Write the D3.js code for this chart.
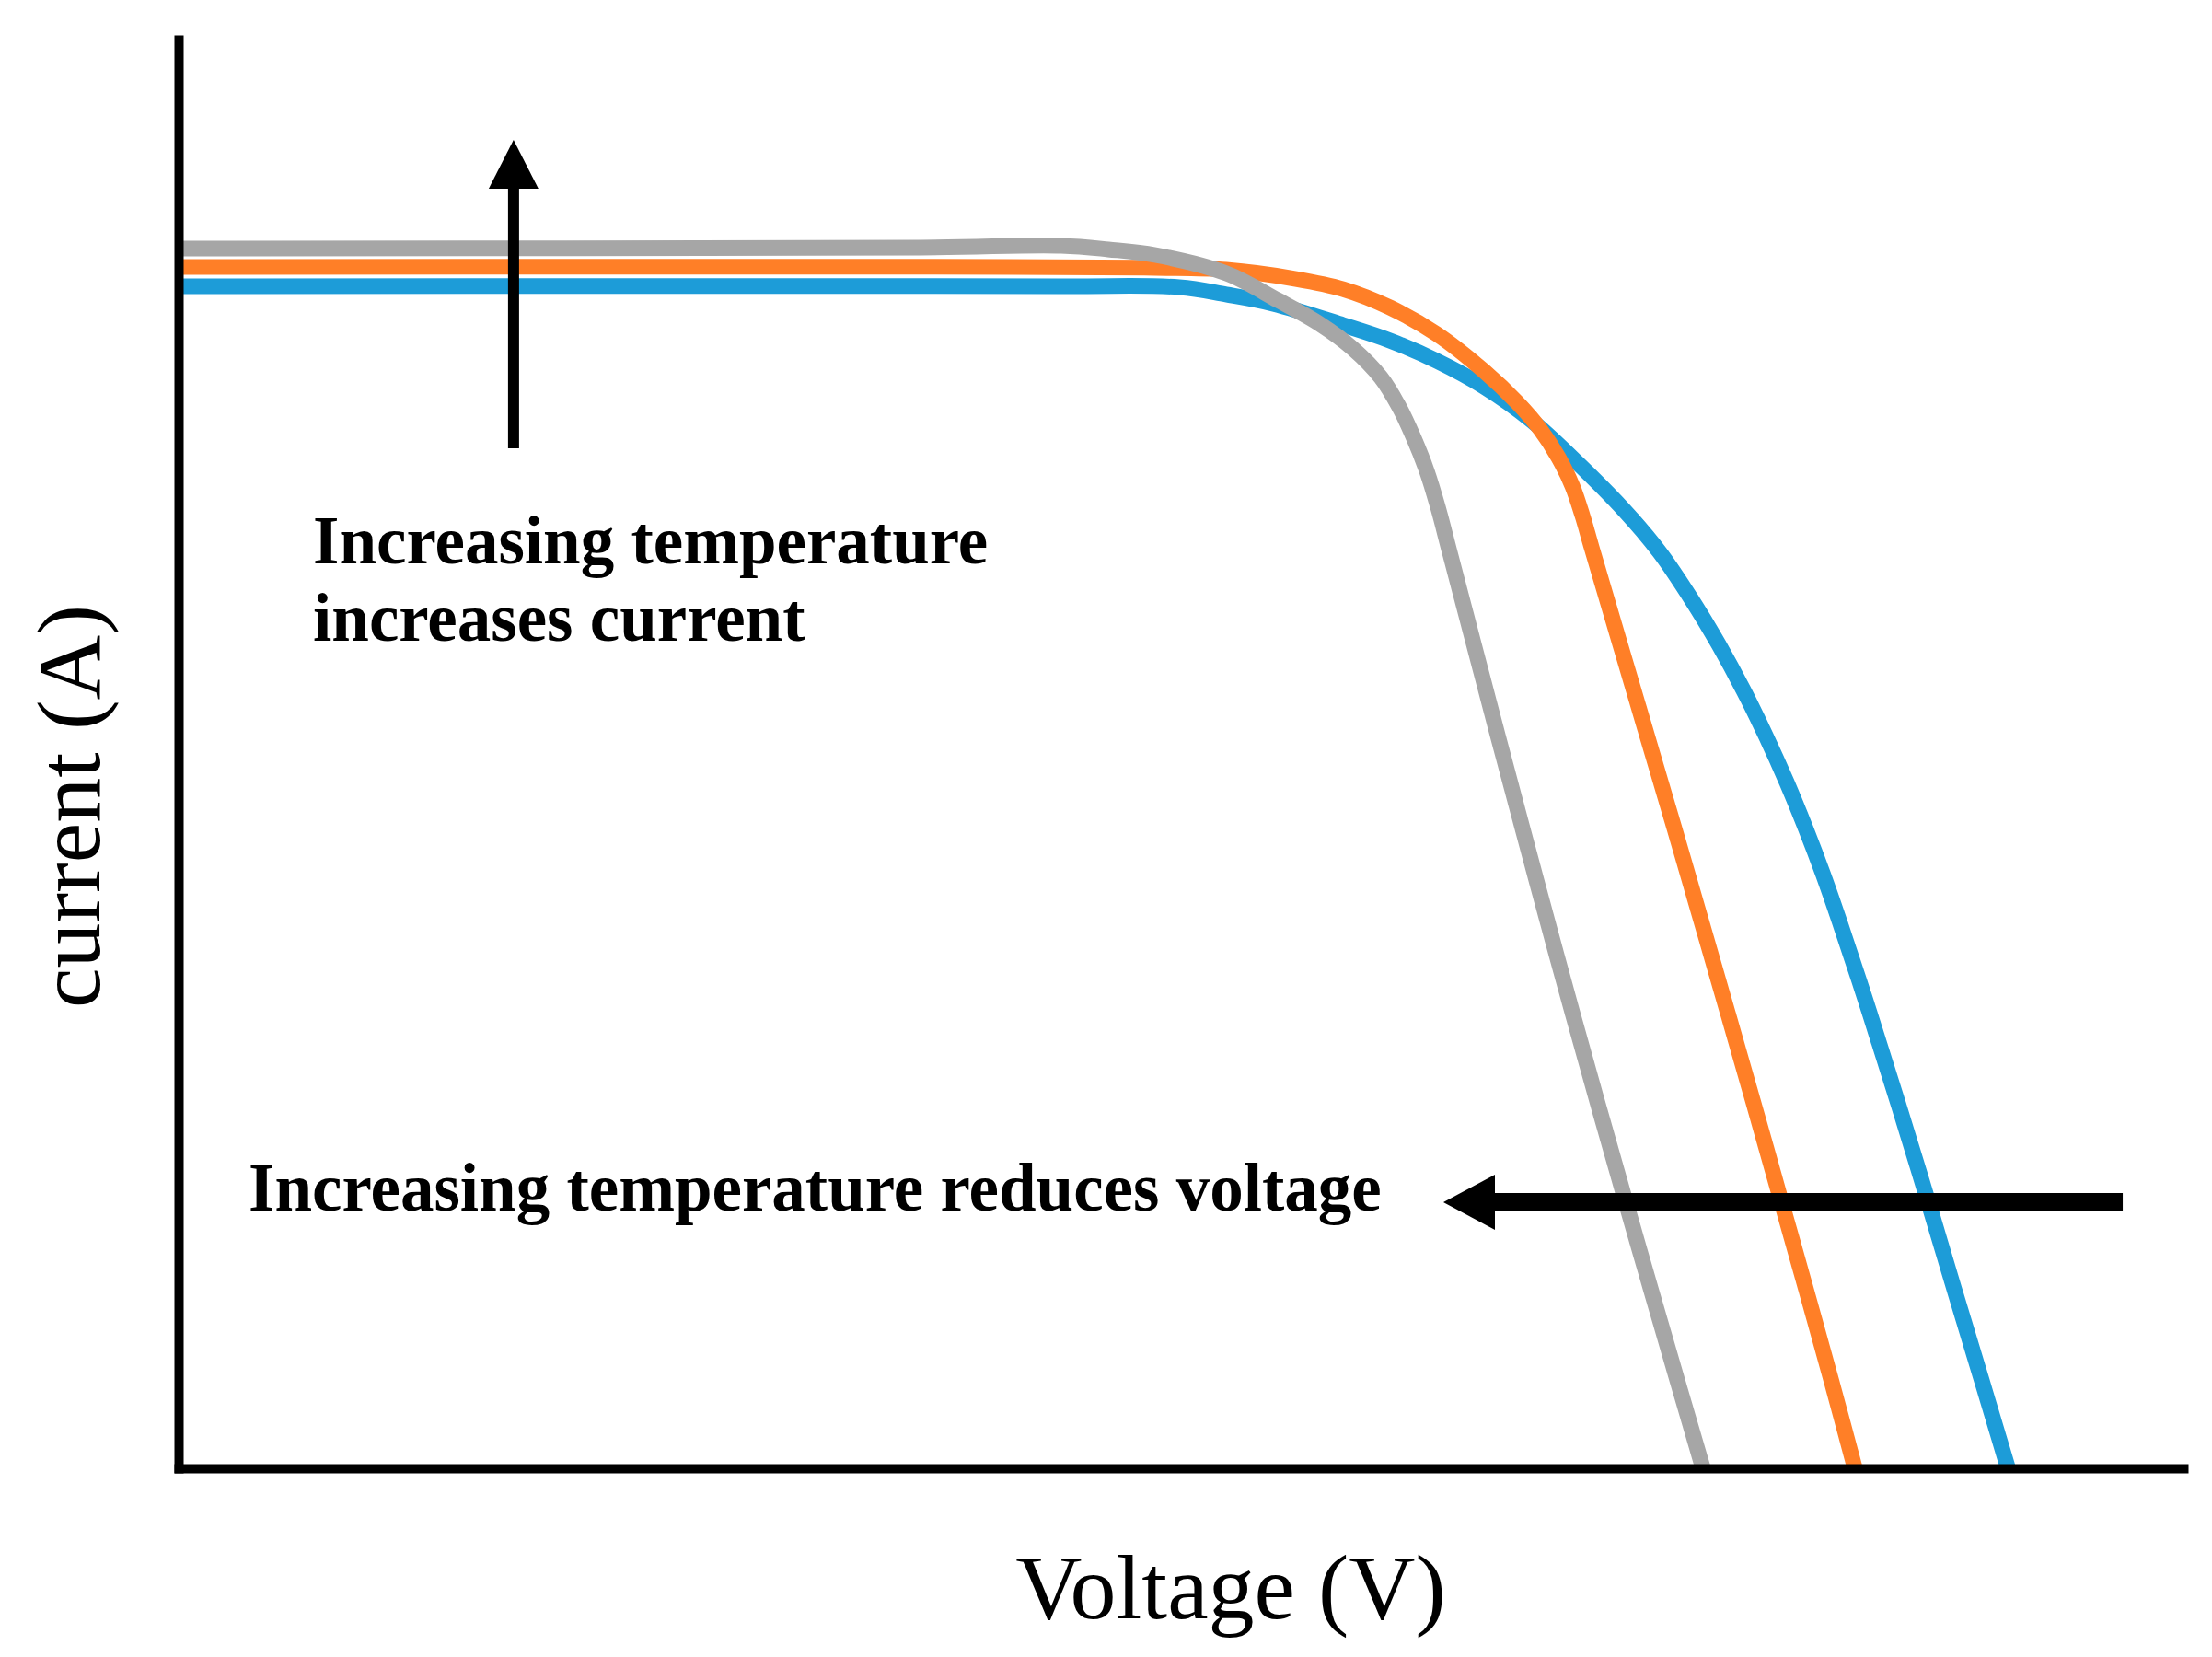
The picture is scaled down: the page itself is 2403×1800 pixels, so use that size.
<!DOCTYPE html>
<html>
<head>
<meta charset="utf-8">
<script src="https://cdn.jsdelivr.net/npm/d3@7"></script>
<style>
  html, body { margin: 0; padding: 0; background: #ffffff; }
  svg { display: block; }
</style>
</head>
<body>
<svg id="chart" width="2403" height="1800"></svg>
<script>
// ---------- DATA (voltage and current in % of full axis) ----------
const seriesNames = ["Low temperature", "Medium temperature", "High temperature"];

const lowTempVoltage = [0, 43.79, 49.79, 52.13, 54.47, 57.95, 60.28, 62.62, 64.96, 67.29, 69.63, 71.97, 73.71, 75.26, 76.64, 77.88, 79.00, 80.03, 80.97, 81.84, 82.64, 84.15, 85.59, 86.99, 88.36, 89.74, 91.04];
const lowTempCurrent = [82.47, 82.47, 82.40, 81.89, 81.25, 79.77, 78.68, 77.26, 75.47, 73.15, 70.13, 66.80, 63.90, 60.69, 57.48, 54.27, 51.06, 47.85, 44.64, 41.43, 38.21, 31.79, 25.37, 18.95, 12.52, 6.10, 0];

const midTempVoltage = [0, 41.50, 48.60, 52.13, 55.61, 57.95, 60.28, 62.62, 64.96, 66.61, 67.75, 68.67, 69.36, 69.86, 70.32, 71.74, 73.09, 74.44, 75.77, 77.09, 78.40, 79.69, 80.98, 82.25, 83.42];
const midTempCurrent = [83.82, 83.82, 83.75, 83.62, 82.98, 82.27, 80.99, 79.13, 76.56, 74.37, 72.51, 70.52, 68.53, 66.47, 64.23, 57.48, 51.06, 44.64, 38.21, 31.79, 25.37, 18.95, 12.52, 6.10, 0];

const highTempVoltage = [0, 36.92, 43.93, 46.27, 48.60, 52.13, 54.70, 56.80, 58.41, 59.83, 60.74, 61.47, 62.12, 62.67, 63.26, 64.46, 65.66, 66.88, 68.11, 69.36, 70.64, 71.94, 73.26, 74.59, 75.86];
const highTempCurrent = [85.10, 85.17, 85.29, 85.04, 84.65, 83.37, 81.50, 79.83, 78.16, 76.11, 74.05, 71.87, 69.56, 67.05, 63.90, 57.48, 51.06, 44.64, 38.21, 31.79, 25.37, 18.95, 12.52, 6.10, 0];

const xAxisTitle = "Voltage (V)";
const yAxisTitle = "current (A)";
const currentNoteLines = ["Increasing temperature", "increases current"];
const voltageNote = "Increasing temperature reduces voltage";

// annotation arrows (data units)
const currentArrowVoltage = 16.67, currentArrowFrom = 71.16, currentArrowTo = 92.68;
const voltageArrowCurrent = 18.56, voltageArrowFrom = 96.75, voltageArrowTo = 62.94;

// ---------- LAYOUT ----------
const W = 2403, H = 1800;
const svg = d3.select("#chart");
svg.append("rect").attr("width", W).attr("height", H).attr("fill", "#ffffff");

const x = d3.scaleLinear().domain([0, 100]).range([194, 2377]);
const y = d3.scaleLinear().domain([0, 100]).range([1595, 38]);

const colors = ["#1D9CD8", "#FF7F27", "#A6A6A6"];
const series = [
  { name: seriesNames[0], v: lowTempVoltage, i: lowTempCurrent, color: colors[0] },
  { name: seriesNames[1], v: midTempVoltage, i: midTempCurrent, color: colors[1] },
  { name: seriesNames[2], v: highTempVoltage, i: highTempCurrent, color: colors[2] }
];

const line = d3.line()
  .x(d => x(d[0]))
  .y(d => y(d[1]))
  .curve(d3.curveCatmullRom.alpha(0.5));

svg.append("g").selectAll("path")
  .data(series)
  .join("path")
  .attr("d", s => line(s.v.map((v, k) => [v, s.i[k]])))
  .attr("fill", "none")
  .attr("stroke", s => s.color)
  .attr("stroke-width", 17)
  .attr("stroke-linejoin", "round");

// ---------- AXES ----------
const xAxisScale = x.copy().range([189, 2377]);
const yAxisScale = y.copy().range([1600, 38]);

const gx = svg.append("g")
  .attr("transform", "translate(0,1595)")
  .call(d3.axisBottom(xAxisScale).tickValues([]).tickSizeOuter(0));
const gy = svg.append("g")
  .attr("transform", "translate(194,0)")
  .call(d3.axisLeft(yAxisScale).tickValues([]).tickSizeOuter(0));
[gx, gy].forEach(g => g.select(".domain")
  .attr("stroke", "#000").attr("stroke-width", 10).attr("stroke-linecap", "butt"));

svg.append("text")
  .attr("x", 1337).attr("y", 1758)
  .attr("text-anchor", "middle")
  .attr("font-family", "'Liberation Serif', 'Times New Roman', serif")
  .attr("font-size", 100)
  .attr("fill", "#000")
  .text(xAxisTitle);

svg.append("text")
  .attr("transform", "translate(108,876) rotate(-90)")
  .attr("text-anchor", "middle")
  .attr("font-family", "'Liberation Serif', 'Times New Roman', serif")
  .attr("font-size", 98)
  .attr("fill", "#000")
  .text(yAxisTitle);

// ---------- ANNOTATIONS ----------
const ann = svg.append("g");

// vertical arrow (current)
{
  const ax = x(currentArrowVoltage);
  const yBottom = y(currentArrowFrom), yTip = y(currentArrowTo);
  const headLen = 53, headHalf = 27;
  ann.append("line")
    .attr("x1", ax).attr("x2", ax)
    .attr("y1", yBottom).attr("y2", yTip + headLen - 1)
    .attr("stroke", "#000").attr("stroke-width", 12);
  ann.append("path")
    .attr("d", d3.line()([[ax, yTip], [ax + headHalf, yTip + headLen], [ax - headHalf, yTip + headLen]]) + "Z")
    .attr("fill", "#000");
}

// horizontal arrow (voltage)
{
  const ay = y(voltageArrowCurrent);
  const xStart = x(voltageArrowFrom), xTip = x(voltageArrowTo);
  const headLen = 56, headHalf = 30;
  ann.append("line")
    .attr("x1", xStart).attr("x2", xTip + headLen - 1)
    .attr("y1", ay).attr("y2", ay)
    .attr("stroke", "#000").attr("stroke-width", 20);
  ann.append("path")
    .attr("d", d3.line()([[xTip, ay], [xTip + headLen, ay - headHalf], [xTip + headLen, ay + headHalf]]) + "Z")
    .attr("fill", "#000");
}

const noteFont = "'Liberation Serif', 'Times New Roman', serif";
ann.selectAll("text.cur")
  .data(currentNoteLines)
  .join("text")
  .attr("class", "cur")
  .attr("x", 340)
  .attr("y", (d, k) => 612 + k * 84)
  .attr("font-family", noteFont)
  .attr("font-weight", "bold")
  .attr("font-size", 73)
  .attr("fill", "#000")
  .text(d => d);

ann.append("text")
  .attr("x", 270).attr("y", 1315)
  .attr("font-family", noteFont)
  .attr("font-weight", "bold")
  .attr("font-size", 73)
  .attr("fill", "#000")
  .text(voltageNote);
</script>
</body>
</html>
